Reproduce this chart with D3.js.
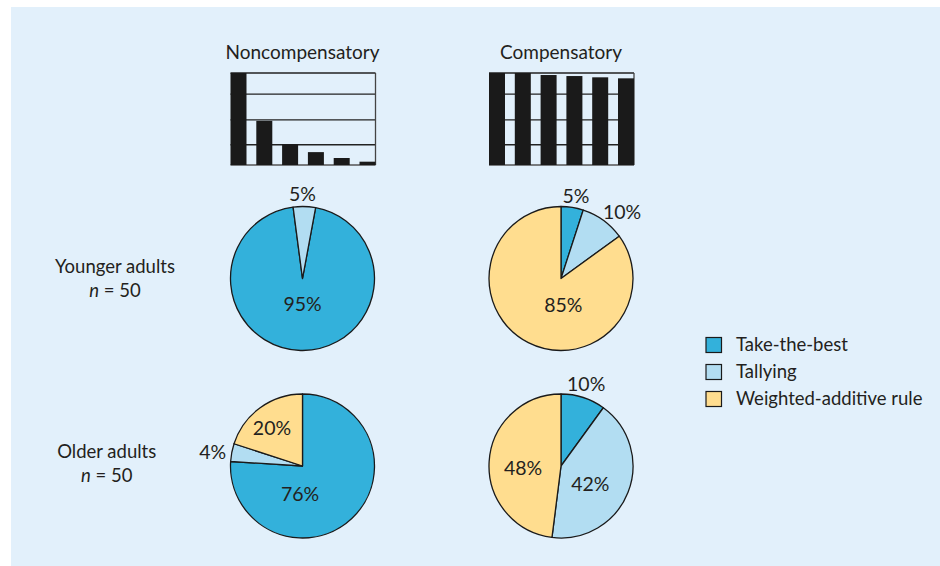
<!DOCTYPE html>
<html>
<head>
<meta charset="utf-8">
<script src="https://cdn.jsdelivr.net/npm/d3@7"></script>
<style>
  body { margin: 0; background: #ffffff; }
  svg { display: block; }
  text { font-family: Lato, "Open Sans", sans-serif; fill: #231f20; }
</style>
</head>
<body>
<svg id="chart" width="940" height="566"></svg>
<script>
// ---- data ----
const strategies = ["Take-the-best", "Tallying", "Weighted-additive rule"];
const conditions = ["Noncompensatory", "Compensatory"];
const groups = ["Younger adults", "Older adults"];
const groupN = [50, 50];
const cues = ["1", "2", "3", "4", "5", "6"];
// cue weights for the two environments (relative to the most valid cue)
const noncompWeights = [1, 0.48, 0.225, 0.14, 0.076, 0.036];
const compWeights = [1, 1, 0.978, 0.967, 0.953, 0.942];
const gridTicks = [0, 0.22, 0.49, 0.77, 1];
// strategy shares (%) per group x condition, in the order of `strategies`
const youngerNoncomp = [95, 5, 0];
const youngerComp = [5, 10, 85];
const olderNoncomp = [76, 4, 20];
const olderComp = [10, 42, 48];

// ---- layout ----
const colors = ["#33b1db", "#b2ddf2", "#ffdd8f"];
const colX = [302.5, 561];
const rowY = [278.5, 466];
const R = 72;
const svg = d3.select("#chart");

svg.append("rect").attr("x", 11).attr("y", 7).attr("width", 929).attr("height", 559)
  .attr("fill", "#e2f0fb");

// ---- cue-weight bar charts ----
const weightSets = [noncompWeights, compWeights];
const yBar = d3.scaleLinear().domain([0, 1]).range([165, 73]);
conditions.forEach((cond, ci) => {
  const cx = colX[ci];
  const x = d3.scaleBand().domain(cues).range([cx - 72, cx + 73]).paddingInner(0.38).paddingOuter(0);
  const g = svg.append("g");
  g.append("text").attr("x", cx).attr("y", 59.3).attr("text-anchor", "middle")
    .attr("font-size", 19).text(cond);
  g.selectAll("line.grid").data(gridTicks).join("line")
    .attr("x1", cx - 72).attr("x2", cx + 73)
    .attr("y1", d => yBar(d)).attr("y2", d => yBar(d))
    .attr("stroke", d => d === 0 ? "#555" : "#222").attr("stroke-width", 1.3);
  g.append("line").attr("x1", cx + 73).attr("x2", cx + 73)
    .attr("y1", yBar(1)).attr("y2", yBar(0)).attr("stroke", "#444").attr("stroke-width", 1.3);
  g.selectAll("rect.bar").data(weightSets[ci]).join("rect")
    .attr("x", (d, i) => x(cues[i])).attr("width", x.bandwidth())
    .attr("y", d => yBar(d)).attr("height", d => yBar(0) - yBar(d))
    .attr("fill", "#1a1a1a");
});

// ---- pies ----
const pies = [
  { row: 0, col: 0, values: youngerNoncomp, start: 10.5,
    labels: [[180, 25], [0, 85], null] },
  { row: 0, col: 1, values: youngerComp, start: 0,
    labels: [[10.3, 84], [42.7, 90], [175, 26.6]] },
  { row: 1, col: 0, values: olderNoncomp, start: 0,
    labels: [[185, 27.8], [279, 91], [321, 48.5]] },
  { row: 1, col: 1, values: olderComp, start: 0,
    labels: [[17, 86], [121, 34.2], [267, 38]] }
];
const arc = d3.arc().innerRadius(0).outerRadius(R);
pies.forEach(p => {
  const rad = p.start * Math.PI / 180;
  const layout = d3.pie().sort(null).startAngle(rad).endAngle(rad + 2 * Math.PI);
  const slices = layout(p.values);
  const g = svg.append("g").attr("transform", `translate(${colX[p.col]},${rowY[p.row]})`);
  g.selectAll("path").data(slices.filter(s => s.value > 0)).join("path")
    .attr("d", arc).attr("fill", d => colors[d.index])
    .attr("stroke", "#1a1a1a").attr("stroke-width", 1.3).attr("stroke-linejoin", "round");
  slices.forEach((s, i) => {
    const lp = p.labels[i];
    if (!lp || s.value === 0) return;
    const a = lp[0] * Math.PI / 180;
    g.append("text")
      .attr("x", Math.sin(a) * lp[1]).attr("y", -Math.cos(a) * lp[1])
      .attr("dy", "0.36em").attr("text-anchor", "middle").attr("font-size", 19.5)
      .text(s.value + "%");
  });
});

// ---- group labels ----
const groupLabelX = [115, 106.7];
const groupBase = [272.7, 458.3];
groups.forEach((name, i) => {
  svg.append("text").attr("x", groupLabelX[i]).attr("y", groupBase[i])
    .attr("text-anchor", "middle").attr("font-size", 18.5).text(name);
  const t = svg.append("text").attr("x", groupLabelX[i]).attr("y", groupBase[i] + 24)
    .attr("text-anchor", "middle").attr("font-size", 18.5);
  t.append("tspan").attr("font-style", "italic").text("n");
  t.append("tspan").text(" = " + groupN[i]);
});

// ---- legend ----
const legend = svg.append("g").attr("transform", "translate(706,337.5)");
strategies.forEach((s, i) => {
  legend.append("rect").attr("x", 0).attr("y", i * 27).attr("width", 15.5).attr("height", 15)
    .attr("fill", colors[i]).attr("stroke", "#1a1a1a").attr("stroke-width", 1.2);
  legend.append("text").attr("x", 30).attr("y", i * 27 + 13.5)
    .attr("font-size", 18.5).text(s);
});
</script>
</body>
</html>
